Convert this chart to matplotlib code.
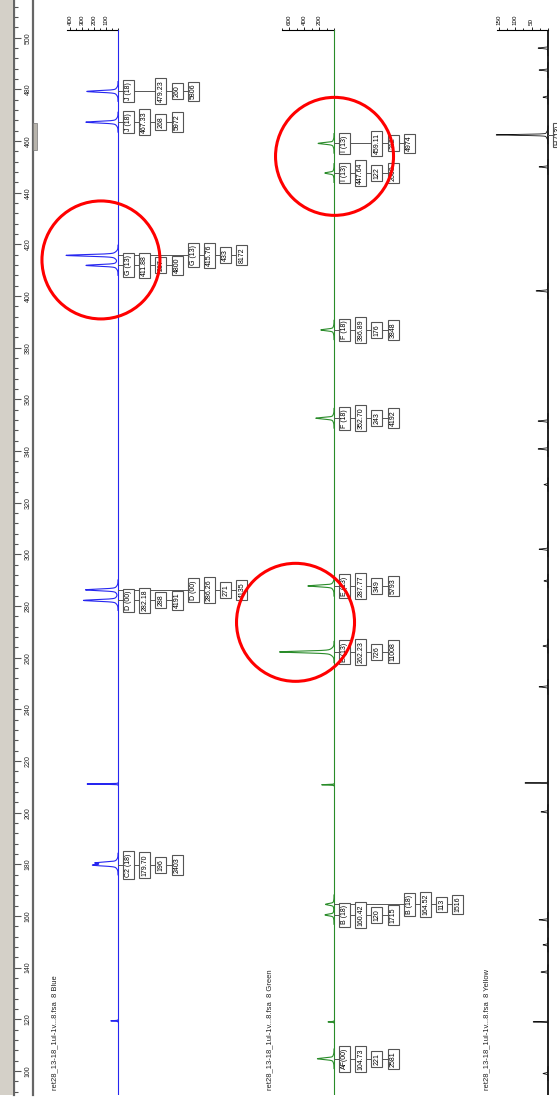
import numpy as np
import matplotlib.pyplot as plt
from matplotlib.patches import Rectangle
from matplotlib.transforms import blended_transform_factory

plt.rcParams['font.family'] = ['Liberation Sans', 'DejaVu Sans']

W, H = 557, 1102
PX_PER_BP = 2.583


def bp_at(y):
    # bp value at a pixel row (100 bp sits at row 1071)
    return 100 + (1071 - y) / PX_PER_BP


# ---- data ----
blue_names = ['J (18)', 'J (18)', 'G (13)', 'G (13)', 'D (00)', 'D (00)', 'C2 (18)']
blue_sizes = [479.23, 467.33, 415.76, 411.88, 286.26, 282.18, 179.70]
blue_heights = [260, 268, 433, 267, 271, 288, 196]
blue_areas = [5806, 5972, 8172, 4800, 4135, 4191, 2403]
blue_extra_bp = [180.55]
blue_extra_h = [175]
blue_spike_bp = [211.1, 119.4]
blue_spike_h = [258, 60]

green_names = ['I (13)', 'I (13)', 'F (18)', 'F (18)', 'E (13)', 'E (13)',
               'B (18)', 'B (18)', 'AF(00)']
green_sizes = [459.11, 447.64, 386.89, 352.70, 287.77, 262.23, 164.52, 160.42, 104.73]
green_heights = [212, 122, 176, 243, 349, 726, 113, 120, 221]
green_areas = [4974, 2660, 3848, 4192, 5793, 11008, 1516, 1715, 2581]
green_spike_bp = [210.8, 119.0]
green_spike_h = [164, 80]

yellow_names = ['H (13)']
yellow_sizes = [462.4]
yellow_heights = [157]
yellow_areas = ['']
yellow_small_bp = [496, 487.5, 477, 450, 402, 351.6, 340.8, 327, 302, 289.7,
                   264.5, 248.7, 200.3, 158.5, 148.8, 138.3, 99]
yellow_small_h = [30, 27, 15, 27, 36, 30, 30, 12, 27, 12, 15, 27, 21, 27, 15, 21, 15]
yellow_spike_bp = [211.5, 119.0]
yellow_spike_h = [70, 45]

# label box columns for each peak (layout)
blue_cols = [[1, 3, 4, 5], [1, 2, 3, 4], [5, 6, 7, 8], [1, 2, 3, 4],
             [5, 6, 7, 8], [1, 2, 3, 4], [1, 2, 3, 4]]
green_cols = [[1, 3, 4, 5], [1, 2, 3, 4], [1, 2, 3, 4], [1, 2, 3, 4], [1, 2, 3, 4],
              [1, 2, 3, 4], [5, 6, 7, 8], [1, 2, 3, 4], [1, 2, 3, 4]]
yellow_cols = [[1]]

ruler_major = list(range(100, 501, 20))
ruler_minor = list(range(92, 514, 4))

bp = np.arange(bp_at(1095), bp_at(30), 0.02)


def peak(x, pos, h, broad, width):
    return h * ((1 - broad) * np.exp(-0.5 * ((x - pos) / width) ** 2)
                + broad * np.exp(-0.5 * ((x - pos) / 1.0) ** 2))


def spike(x, pos, h):
    return h * np.exp(-0.5 * ((x - pos) / 0.1) ** 2)


def make_trace(sizes, heights, spikes_bp, spikes_h, broad=0.12, width=0.3):
    y = np.zeros_like(bp)
    for s, h in zip(sizes, heights):
        y += peak(bp, s, h, broad, width)
    for s, h in zip(spikes_bp, spikes_h):
        y += spike(bp, s, h)
    # only keep the parts that leave the baseline, baseline is drawn on its own
    return np.where(y > 0.02, y, np.nan)


fig = plt.figure(figsize=(W / 100, H / 100), dpi=100)


def add_axes_px(x0, y0, x1, y1):
    return fig.add_axes([x0 / W, 1 - y1 / H, (x1 - x0) / W, (y1 - y0) / H])


# grey window band + scroll thumb
fig.patches.append(Rectangle((0, 1 - 1095 / H), 13 / W, 1095 / H, transform=fig.transFigure,
                             fc='#d4d0c8', ec='none', zorder=0))
fig.patches.append(Rectangle((33 / W, 1 - 150 / H), 4 / W, 27 / H, transform=fig.transFigure,
                             fc='#b8b4ac', ec='#777777', lw=0.5, zorder=1))

# ruler
ruler = add_axes_px(14, 0, 33, 1095)
ruler.set_ylim(bp_at(1095), bp_at(0))
ruler.set_xlim(0, 1)
for side in ['top', 'bottom']:
    ruler.spines[side].set_visible(False)
for side in ['left', 'right']:
    ruler.spines[side].set_color('#666666')
    ruler.spines[side].set_linewidth(1.6)
ruler.set_xticks([])
ruler.set_yticks(ruler_major)
ruler.set_yticks(ruler_minor, minor=True)
ruler.tick_params(axis='y', which='both', direction='in', left=True, right=False,
                  labelleft=False, color='#555555', width=0.8)
ruler.tick_params(axis='y', which='major', length=5)
ruler.tick_params(axis='y', which='minor', length=3)
rtr = blended_transform_factory(ruler.transAxes, ruler.transData)
for v in ruler_major:
    ruler.text(0.74, v, str(v), transform=rtr, rotation=90, ha='center', va='center',
               fontsize=5, color='#222222')

panels = [
    dict(names=blue_names, sizes=blue_sizes, heights=blue_heights, areas=blue_areas,
         cols=blue_cols, base=118, ppu=0.12, x0=40, x1=124, color='#2626f0',
         lw=0.8, base_lw=0.8,
         bound=425, major=[100, 200, 300, 400], minor=np.arange(0, 426, 50),
         trace=make_trace(blue_sizes + blue_extra_bp, blue_heights + blue_extra_h,
                          blue_spike_bp, blue_spike_h),
         title='ret28_13-18_1ul-1v...8.fsa  8 Blue', tx=55,
         circles=[(142, 414.0)]),
    dict(names=green_names, sizes=green_sizes, heights=green_heights, areas=green_areas,
         cols=green_cols, base=334, ppu=0.075, x0=240, x1=340, color='#2a8c2a',
         lw=0.8, base_lw=0.8,
         bound=700, major=[200, 400, 600], minor=np.arange(0, 701, 100),
         trace=make_trace(green_sizes, green_heights, green_spike_bp, green_spike_h),
         title='ret28_13-18_1ul-1v...8.fsa  8 Green', tx=270,
         circles=[(-7, 454.1), (513, 273.7)]),
    dict(names=yellow_names, sizes=yellow_sizes, heights=yellow_heights, areas=yellow_areas,
         cols=yellow_cols, base=548, ppu=0.33, x0=470, x1=556, color='#111111',
         lw=0.6, base_lw=1.3,
         bound=155, major=[50, 100, 150], minor=np.arange(0, 156, 25),
         trace=make_trace(yellow_sizes + yellow_small_bp, yellow_heights + yellow_small_h,
                          yellow_spike_bp, yellow_spike_h, broad=0.05, width=0.18),
         title='ret28_13-18_1ul-1v...8.fsa  8 Yellow', tx=487,
         circles=[]),
]

for p in panels:
    ax = add_axes_px(p['x0'], 30, p['x1'], 1095)
    ax.patch.set_visible(False)
    ax.set_ylim(bp_at(1095), bp_at(30))
    ax.set_xlim((p['base'] - p['x0']) / p['ppu'], (p['base'] - p['x1']) / p['ppu'])
    for side in ['left', 'right', 'bottom']:
        ax.spines[side].set_visible(False)
    ax.spines['top'].set_bounds(0, p['bound'])
    ax.spines['top'].set_linewidth(0.8)
    ax.set_yticks([])
    ax.xaxis.set_ticks_position('top')
    ax.set_xticks(p['major'])
    ax.set_xticks(p['minor'], minor=True)
    ax.tick_params(axis='x', which='both', direction='out', width=0.6, labelsize=4.5,
                   pad=1, labelrotation=90)
    ax.tick_params(axis='x', which='major', length=2.5)
    ax.tick_params(axis='x', which='minor', length=1.5)

    ax.axvline(0, color=p['color'], lw=p['base_lw'], zorder=3)
    ax.plot(p['trace'], bp, color=p['color'], lw=p['lw'], clip_on=False, zorder=3)

    for name, s, h, a, cols in zip(p['names'], p['sizes'], p['heights'], p['areas'], p['cols']):
        texts = [name, f'{s:.2f}', str(h), str(a)][:len(cols)]
        xs = [-(10.5 + 16.2 * (c - 1)) / p['ppu'] for c in cols]
        ax.plot([0, xs[-1]], [s, s], color='#555555', lw=0.7, clip_on=False, zorder=4)
        for t, x in zip(texts, xs):
            ax.text(x, s, t, rotation=90, ha='center', va='center', fontsize=5,
                    clip_on=False, zorder=5,
                    bbox=dict(boxstyle='square,pad=0.3', fc='white', ec='#555555', lw=0.8))

    for cx, cy in p['circles']:
        ax.scatter([cx], [cy], s=7218, marker='o', facecolors='none', edgecolors='#ff0000',
                   linewidths=2.2, clip_on=False, zorder=10)

    fig.text(p['tx'] / W, 1 - 1090 / H, p['title'], rotation=90, ha='center', va='bottom',
             fontsize=5.5, color='#222222')

fig.savefig('out.png', dpi=100)
